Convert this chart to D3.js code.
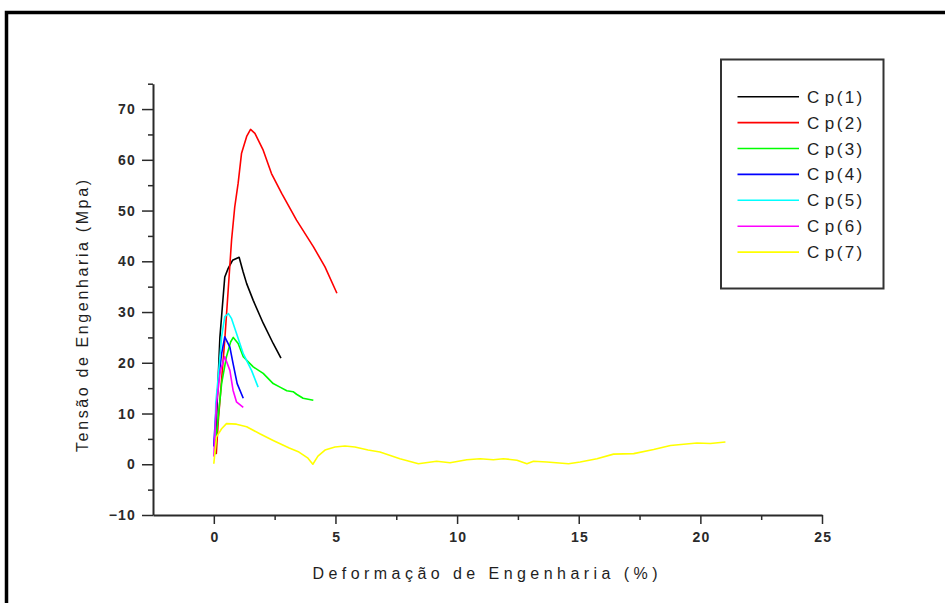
<!DOCTYPE html>
<html>
<head>
<meta charset="utf-8">
<script src="https://cdn.jsdelivr.net/npm/d3@7"></script>
<style>
  body { margin: 0; background: #fff; }
  svg { display: block; }
  .tick text { font-family: "Liberation Sans", Arial, sans-serif; font-weight: bold; font-size: 14px; fill: #2a2a2a; letter-spacing: 1.2px; }
</style>
</head>
<body>
<div id="chart"></div>
<script>
// Series names and colours, as in the legend.
const seriesNames = ["C p(1)", "C p(2)", "C p(3)", "C p(4)", "C p(5)", "C p(6)", "C p(7)"];
const seriesColors = ["#000000", "#ff0000", "#00ff00", "#0000ff", "#00ffff", "#ff00ff", "#ffff00"];

// Strain (%) / stress (MPa) pairs.
const cp1 = [[0.05,2],[0.1,8],[0.18,17],[0.25,25],[0.35,31],[0.45,36.9],[0.59,38.6],[0.77,40.2],[1.04,40.8],[1.2,38],[1.35,35.6],[1.62,32.3],[2.03,27.8],[2.44,23.8],[2.76,20.9]];
const cp2 = [[0.1,2],[0.18,8.3],[0.45,24.5],[0.59,34.3],[0.73,44.2],[0.86,50.7],[1.0,55.4],[1.14,61.3],[1.35,64.6],[1.51,66.0],[1.69,65.2],[2.03,61.9],[2.37,57.3],[2.79,53.4],[3.4,48.1],[4.09,42.9],[4.57,38.9],[5.06,33.7]];
const cp3 = [[0.05,2],[0.11,6],[0.32,15.9],[0.52,21.2],[0.69,24.1],[0.8,25],[1.0,23.8],[1.21,21.2],[1.62,19.2],[2.03,17.9],[2.44,15.9],[2.72,15.2],[3.0,14.5],[3.26,14.3],[3.4,13.8],[3.67,13.0],[4.09,12.6]];
const cp4 = [[0.0,3.5],[0.01,4.7],[0.08,10],[0.18,15.9],[0.32,21.8],[0.45,25.1],[0.66,23.1],[0.79,19.9],[0.96,15.9],[1.21,13.0]];
const cp5 = [[0.05,5],[0.08,12],[0.18,17.2],[0.32,25.1],[0.45,29.1],[0.6,29.7],[0.73,28.7],[0.93,25.8],[1.21,21.8],[1.55,18.5],[1.82,15.2]];
const cp6 = [[0.0,1.5],[0.11,12],[0.27,18.5],[0.45,21.2],[0.66,18.5],[0.79,14.6],[0.93,12.3],[1.21,11.2]];
const cp7 = [[0.0,0.1],[0.11,5.4],[0.32,7.0],[0.52,8.0],[0.93,7.9],[1.35,7.4],[1.89,6.0],[2.44,4.7],[3.1,3.2],[3.5,2.4],[3.87,1.2],[4.07,0],[4.28,1.6],[4.57,2.8],[4.98,3.4],[5.39,3.6],[5.8,3.4],[6.34,2.8],[6.83,2.4],[7.65,1.1],[8.41,0.1],[9.16,0.6],[9.71,0.3],[10.4,0.9],[10.95,1.1],[11.49,0.9],[11.9,1.1],[12.46,0.8],[12.87,0.1],[13.14,0.6],[13.69,0.45],[14.58,0.1],[15.06,0.45],[15.75,1.1],[16.43,2.0],[17.26,2.1],[18.08,2.9],[18.77,3.7],[19.86,4.2],[20.41,4.1],[21.03,4.4]];
const seriesData = [cp1, cp2, cp3, cp4, cp5, cp6, cp7];

// Tick labels.
const xMajorTicks = [0, 5, 10, 15, 20, 25];
const xMinorTicks = [2.5, 7.5, 12.5, 17.5, 22.5];
const yMajorTicks = [-10, 0, 10, 20, 30, 40, 50, 60, 70];
const yMinorTicks = [-5, 5, 15, 25, 35, 45, 55, 65, 75];

const W = 945, H = 603;
let svg = d3.select("#chart").append("svg")
    .attr("width", W)
    .attr("height", H);

// Thick outer frame (only top and left edges are inside the picture).
svg.append("rect")
    .attr("x", 6.5).attr("y", 12.5)
    .attr("width", 1000).attr("height", 700)
    .attr("fill", "none")
    .attr("stroke", "#000")
    .attr("stroke-width", 3.5);

let x = d3.scaleLinear().domain([-2.5, 25]).range([153, 822]);
let y = d3.scaleLinear().domain([-10, 75]).range([515, 83.7]);

// X axis.
let xAxisG = svg.append("g").attr("transform", `translate(0,${y(-10)})`);
xAxisG.call(d3.axisBottom(x).tickValues(xMajorTicks).tickFormat(d3.format("d"))
    .tickSize(9).tickSizeOuter(0).tickPadding(8));
svg.append("g").attr("transform", `translate(0,${y(-10)})`)
    .call(d3.axisBottom(x).tickValues(xMinorTicks).tickFormat("").tickSize(5).tickSizeOuter(0))
    .select(".domain").remove();

// Y axis.
let yAxisG = svg.append("g").attr("transform", `translate(${x(-2.5)},0)`);
yAxisG.call(d3.axisLeft(y).tickValues(yMajorTicks).tickFormat(d3.format("d"))
    .tickSize(11).tickSizeOuter(0).tickPadding(6));
svg.append("g").attr("transform", `translate(${x(-2.5)},0)`)
    .call(d3.axisLeft(y).tickValues(yMinorTicks).tickFormat("").tickSize(5).tickSizeOuter(0))
    .select(".domain").remove();

svg.selectAll(".domain").attr("stroke", "#2a2a2a").attr("stroke-width", 2);
svg.selectAll(".tick line").attr("stroke", "#2a2a2a").attr("stroke-width", 1.5);
xAxisG.selectAll(".tick text").attr("dx", "0.05em");

// Axis titles.
svg.append("text")
    .attr("x", 485).attr("y", 579)
    .attr("text-anchor", "middle")
    .attr("textLength", 345)
    .attr("lengthAdjust", "spacing")
    .style("font-family", "'Liberation Sans', Arial, sans-serif")
    .style("font-size", "16px")
    .style("fill", "#1e1e1e")
    .text("Deformação de Engenharia (%)");

svg.append("text")
    .attr("transform", "translate(88,316) rotate(-90)")
    .attr("text-anchor", "middle")
    .attr("textLength", 272)
    .attr("lengthAdjust", "spacing")
    .style("font-family", "'Liberation Sans', Arial, sans-serif")
    .style("font-size", "16px")
    .style("fill", "#1e1e1e")
    .text("Tensão de Engenharia (Mpa)");

// Curves.
let line = d3.line()
    .x(d => x(d[0]))
    .y(d => y(d[1]));

seriesData.forEach((pts, i) => {
  svg.append("path")
      .datum(pts)
      .attr("fill", "none")
      .attr("stroke", seriesColors[i])
      .attr("stroke-width", 1.6)
      .attr("stroke-linejoin", "round")
      .attr("d", line);
});

// Legend.
let legend = svg.append("g");
legend.append("rect")
    .attr("x", 721).attr("y", 59.5)
    .attr("width", 162.5).attr("height", 229)
    .attr("fill", "#fff")
    .attr("stroke", "#333")
    .attr("stroke-width", 2);

seriesNames.forEach((name, i) => {
  let ly = 96.7 + i * 25.9;
  legend.append("line")
      .attr("x1", 737.5).attr("x2", 799)
      .attr("y1", ly).attr("y2", ly)
      .attr("stroke", seriesColors[i])
      .attr("stroke-width", 1.6);
  legend.append("text")
      .attr("x", 807).attr("y", ly + 6)
      .style("font-family", "'Liberation Sans', Arial, sans-serif")
      .style("font-size", "17px")
      .style("letter-spacing", "2.4px")
      .style("word-spacing", "-4px")
      .style("fill", "#1e1e1e")
      .text(name);
});
</script>
</body>
</html>
